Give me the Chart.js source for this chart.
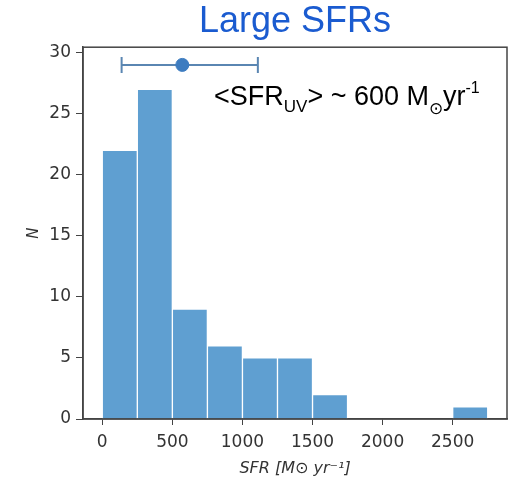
<!DOCTYPE html>
<html>
<head>
<meta charset="utf-8">
<script src="https://cdn.jsdelivr.net/npm/chart.js@4"></script>
<style>
  html,body{margin:0;padding:0;background:#fff;}
  #wrap{width:511px;height:482px;}
</style>
</head>
<body>
<div id="wrap"><canvas id="c" width="511" height="482"></canvas></div>
<script>
// histogram bins (left edges, width 250) and counts
const binLeft  = [0, 250, 500, 750, 1000, 1250, 1500, 1750, 2000, 2250, 2500];
const binWidth = 250;
const counts   = [22, 27, 9, 6, 5, 5, 2, 0, 0, 0, 1];

// mean SFR marker with its range
const meanSFR  = 571;
const errLow   = 138;
const errHigh  = 1110;
const errY     = 29;

const xTicks = [0, 500, 1000, 1500, 2000, 2500];
const yTicks = [0, 5, 10, 15, 20, 25, 30];

const barData = binLeft
  .map((l,i)=>({x:l+binWidth/2, y:counts[i]}))
  .filter(p=>p.y>0);

const tickFont = {family:'DejaVu Sans', size:17};

// frame on all four sides like the matplotlib spines
const framePlugin = {
  id:'frame',
  afterDatasetsDraw(chart){
    const {ctx, chartArea:a} = chart;
    ctx.save();
    ctx.strokeStyle = '#444';
    ctx.lineWidth = 1.5;
    ctx.strokeRect(a.left, a.top, a.right-a.left, a.bottom-a.top);
    ctx.restore();
  }
};

// "<SFR_UV> ~ 600 M_sun yr^-1" label inside the plot
const notePlugin = {
  id:'note',
  afterDraw(chart){
    const ctx = chart.ctx;
    const base = 105;
    let x = 214;
    const parts = [
      {t:'<SFR', size:27, dy:0},
      {t:'UV', size:17, dy:7},
      {t:'> ~ 600 M', size:27, dy:0},
      {t:'\u2299', size:17, dy:9},
      {t:'yr', size:27, dy:0},
      {t:'-1', size:16, dy:-12}
    ];
    ctx.save();
    ctx.fillStyle = '#000';
    ctx.textBaseline = 'alphabetic';
    parts.forEach(p=>{
      ctx.font = p.size+'px "Liberation Sans", Arial, sans-serif';
      ctx.fillText(p.t, x, base+p.dy);
      x += ctx.measureText(p.t).width;
    });
    ctx.restore();
  }
};

new Chart(document.getElementById('c'), {
  type:'bar',
  data:{
    datasets:[
      {
        type:'line',
        data:[{x:errLow,y:errY},{x:errHigh,y:errY}],
        borderColor:'#5a86b2',
        borderWidth:2,
        pointStyle:'line',
        rotation:90,
        pointRadius:8,
        pointBorderColor:'#5a86b2',
        pointBorderWidth:2,
        order:0
      },
      {
        type:'scatter',
        data:[{x:meanSFR,y:errY}],
        pointRadius:6.5,
        backgroundColor:'#3d7cc0',
        borderColor:'#3d7cc0',
        order:-1
      },
      {
        data:barData,
        backgroundColor:'#5f9fd1',
        borderColor:'#ffffff',
        borderWidth:1,
        borderSkipped:'bottom',
        barPercentage:1,
        categoryPercentage:1,
        grouped:false,
        order:2
      }
    ]
  },
  options:{
    responsive:false,
    animation:false,
    layout:{autoPadding:false, padding:{left:0,right:4,top:0,bottom:0}},
    plugins:{
      legend:{display:false},
      tooltip:{enabled:false},
      title:{
        display:true,
        text:'Large SFRs',
        color:'#1a5bd0',
        fullSize:false,
        font:{family:'"Liberation Sans", Arial, sans-serif', size:36, weight:'normal', lineHeight:1.2},
        padding:{top:0,bottom:4}
      }
    },
    scales:{
      x:{
        type:'linear',
        offset:false,
        min:-137.5,
        max:2887.5,
        afterBuildTicks(s){ s.ticks = xTicks.map(v=>({value:v})); },
        afterFit(s){ s.height = 63; },
        grid:{drawOnChartArea:false, tickLength:6, tickColor:'#444', offset:false},
        border:{color:'#444', width:1.5},
        ticks:{font:tickFont, color:'#333', padding:7, maxRotation:0, callback:v=>String(v)},
        title:{
          display:true,
          text:'SFR [M\u2299 yr\u207B\u00B9]',
          font:{family:'DejaVu Sans', size:16, style:'italic'},
          color:'#333',
          padding:{top:4,bottom:4}
        }
      },
      y:{
        min:0,
        max:30.45,
        afterBuildTicks(s){ s.ticks = yTicks.map(v=>({value:v})); },
        afterFit(s){ s.width = 83; },
        grid:{drawOnChartArea:false, tickLength:7, tickColor:'#444'},
        border:{color:'#444', width:1.5},
        ticks:{font:tickFont, color:'#333', padding:5},
        title:{
          display:true,
          text:'N',
          font:{family:'DejaVu Sans', size:15, style:'italic'},
          color:'#333',
          padding:{top:25,bottom:0}
        }
      }
    }
  },
  plugins:[framePlugin, notePlugin]
});
</script>
</body>
</html>
